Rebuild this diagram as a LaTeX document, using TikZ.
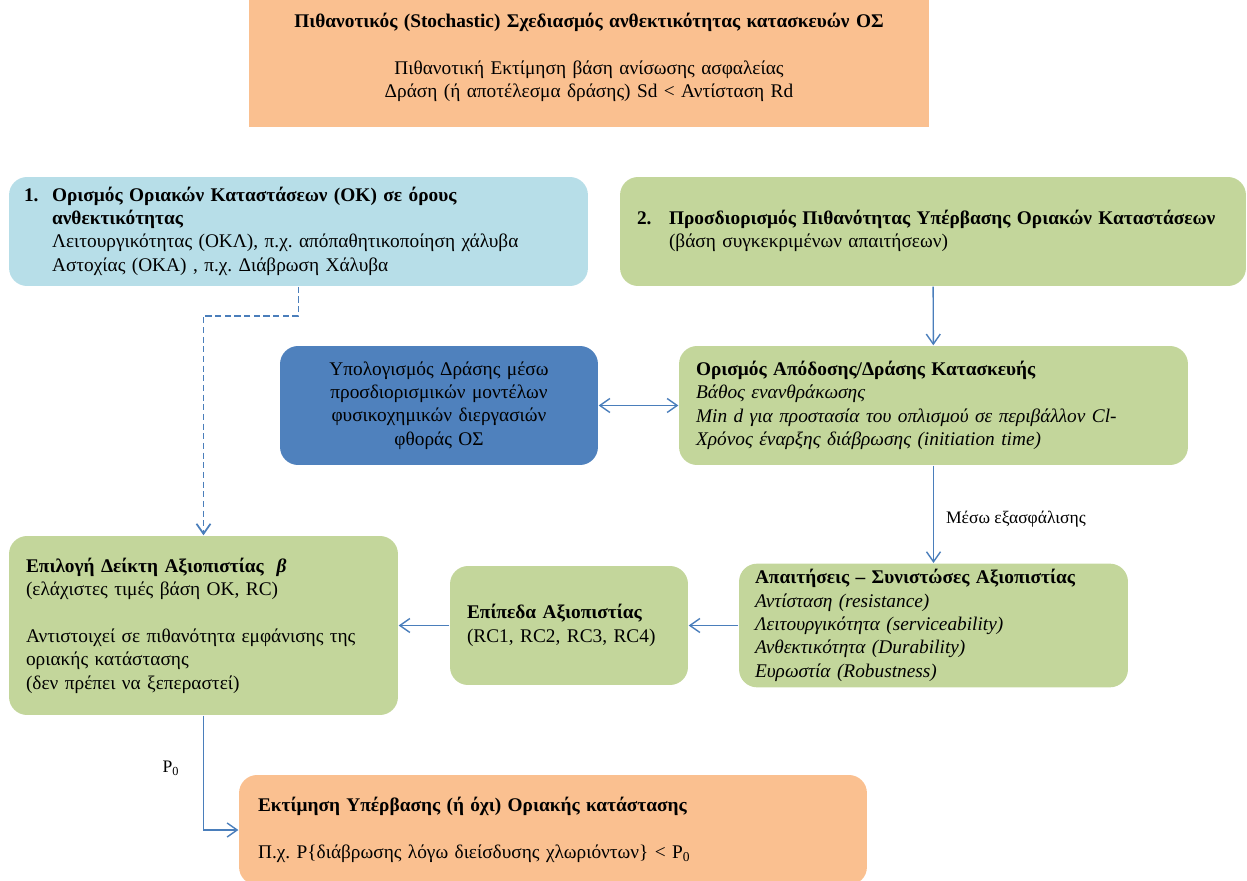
\documentclass[tikz,border=0pt]{standalone}
\usepackage{fontspec}
\setmainfont{Liberation Serif}
\usepackage{xcolor}
\usepackage{tikz}
\usetikzlibrary{arrows.meta,shapes,backgrounds,calc,positioning}
\frenchspacing

\definecolor{peach}{HTML}{FAC090}
\definecolor{skyblue}{HTML}{B7DEE8}
\definecolor{olivegreen}{HTML}{C3D69B}
\definecolor{steelblue}{HTML}{4F81BD}
\definecolor{linkblue}{HTML}{4A7EBB}

\begin{document}
\begin{tikzpicture} [x=0.02cm, y=-0.02cm,
		font=\fontsize{11}{13.3}\selectfont,
		>={Straight Barb[length=0.2cm,width=0.28cm]},
		every path/.append style={line width=0.8pt},
		rbox/.style={rounded corners=0.36cm, inner xsep=0.34cm, align=left},
		greenbox/.style={rbox, fill=olivegreen},
		link/.style={draw=linkblue},
		dashlink/.style={draw=linkblue, line width=1pt, dash pattern=on 3.5pt off 2pt}]
		
		\useasboundingbox (0,0) rectangle (1247,881);
		
		\node (Title) [fill=peach, minimum width=13.6cm, minimum height=2.54cm, text width=12.92cm, align=center] at (589,63.5) {\textbf{Πιθανοτικός (Stochastic) Σχεδιασμός ανθεκτικότητας κατασκευών ΟΣ}\\[13.3pt] Πιθανοτική Εκτίμηση βάση ανίσωσης ασφαλείας\\ Δράση (ή αποτέλεσμα δράσης) Sd < Αντίσταση Rd\\[-4pt]\mbox{}};
		
		\node (OK_1) [rbox, fill=skyblue, inner xsep=0.3cm, minimum width=11.58cm, minimum height=2.18cm, text width=10.98cm] at (298.5,231.5) {\begin{tabular}{@{}p{0.56cm}@{}l@{}}
			\textbf{1.} & \textbf{Ορισμός Οριακών Καταστάσεων (ΟΚ) σε όρους}\\
			& \textbf{ανθεκτικότητας}\\
			& Λειτουργικότητας (ΟΚΛ), π.χ. απόπαθητικοποίηση χάλυβα\\
			& Αστοχίας (ΟΚΑ) , π.χ. Διάβρωση Χάλυβα
		\end{tabular}};
		
		\node (P_2) [greenbox, minimum width=12.52cm, minimum height=2.18cm, text width=11.84cm] at (933,231.5) {\begin{tabular}{@{}p{0.64cm}@{}l@{}}
			\textbf{2.} & \textbf{Προσδιορισμός Πιθανότητας Υπέρβασης Οριακών Καταστάσεων}\\
			& (βάση συγκεκριμένων απαιτήσεων)
		\end{tabular}};
		
		\node (Calc_D) [rbox, fill=steelblue, minimum width=6.36cm, minimum height=2.38cm, text width=5.68cm, align=center] at (439,405.5) {Υπολογισμός Δράσης μέσω\\ προσδιορισμικών μοντέλων\\ φυσικοχημικών διεργασιών\\ φθοράς ΟΣ};
		
		\node (Perf_D) [greenbox, minimum width=10.18cm, minimum height=2.38cm, text width=9.5cm] at (933.5,405.5) {\textbf{Ορισμός Απόδοσης/Δράσης Κατασκευής}\\ \textit{Βάθος ενανθράκωσης}\\ \textit{Min d για προστασία του οπλισμού σε περιβάλλον Cl-}\\ \textit{Χρόνος έναρξης διάβρωσης (initiation time)}};
		
		\node (Beta_R) [greenbox, minimum width=7.78cm, minimum height=3.58cm, text width=7.1cm] at (203.5,625.5) {\textbf{Επιλογή Δείκτη Αξιοπιστίας \ \textit{β}}\\ (ελάχιστες τιμές βάση ΟΚ, RC)\\[13.3pt] Αντιστοιχεί σε πιθανότητα εμφάνισης της\\ οριακής κατάστασης\\ (δεν πρέπει να ξεπεραστεί)};
		
		\node (RC_R) [greenbox, minimum width=4.76cm, minimum height=2.38cm, text width=4.08cm] at (569,625.5) {\textbf{Επίπεδα Αξιοπιστίας}\\ (RC1, RC2, RC3, RC4)};
		
		\node (Req_R) [greenbox, inner xsep=0.32cm, minimum width=7.78cm, minimum height=2.38cm, text width=7.14cm] at (933.5,625.5) {\textbf{Απαιτήσεις – Συνιστώσες Αξιοπιστίας}\\ \textit{Αντίσταση (resistance)}\\ \textit{Λειτουργικότητα (serviceability)}\\ \textit{Ανθεκτικότητα (Durability)}\\ \textit{Ευρωστία (Robustness)}};
		
		\node (Est_P) [rbox, fill=peach, inner xsep=0.38cm, minimum width=12.56cm, minimum height=2.2cm, text width=11.8cm] at (553,830) {\textbf{Εκτίμηση Υπέρβασης (ή όχι) Οριακής κατάστασης}\\[13.3pt] Π.χ. P\{διάβρωσης λόγω διείσδυσης χλωριόντων\} < P\textsubscript{0}};
		
		
		\draw [dashlink, ->] (OK_1.south) -- ++(0,29) -| (Beta_R.north);
		
		\draw [link, ->] (P_2) to (Perf_D);
		
		\draw [link, <->] (Calc_D) to (Perf_D);
		
		\draw [link, ->] (Perf_D) to node[pos=0.55, right=0.12cm, font=\fontsize{10}{12}\selectfont] {Μέσω εξασφάλισης} (Req_R);
		
		\draw [link, ->] (Req_R) to (RC_R);
		
		\draw [link, ->] (RC_R) to (Beta_R);
		
		\draw [link, ->] (Beta_R.south) |- node[pos=0.23, left=0.35cm, font=\fontsize{10}{12}\selectfont] {P\textsubscript{0}} (Est_P.west);
		
		
		\end{tikzpicture}
\end{document}
